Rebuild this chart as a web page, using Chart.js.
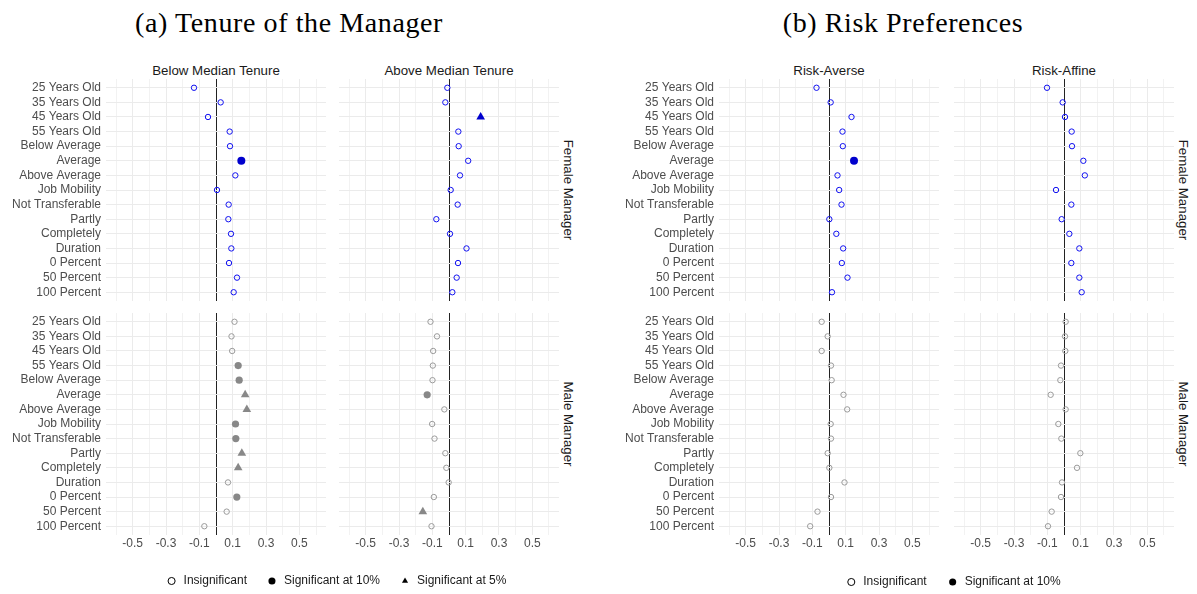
<!DOCTYPE html>
<html><head><meta charset="utf-8">
<script src="https://cdn.jsdelivr.net/npm/chart.js@4.4.1/dist/chart.umd.min.js"></script>
<style>
html,body{margin:0;padding:0;background:#fff;}
body{width:1197px;height:594px;overflow:hidden;position:relative;font-family:"Liberation Sans",Arial,sans-serif;}
.box{position:absolute;}
.title{position:absolute;font-family:"Liberation Serif",serif;font-size:28px;line-height:28px;letter-spacing:0.6px;color:#000;white-space:nowrap;transform:translateX(-50%);}
.strip{position:absolute;font-size:13.3px;line-height:15px;color:#1a1a1a;white-space:nowrap;transform:translate(-50%,-50%);}
.rstrip{position:absolute;font-size:13.3px;line-height:15px;color:#1a1a1a;white-space:nowrap;transform:translate(-50%,-50%) rotate(90deg);}
</style></head><body>
<script>
// ---------------- DATA ----------------
const categories = ['25 Years Old','35 Years Old','45 Years Old','55 Years Old','Below Average','Average','Above Average','Job Mobility','Not Transferable','Partly','Completely','Duration','0 Percent','50 Percent','100 Percent'];
const xTicks = [-0.6,-0.5,-0.4,-0.3,-0.2,-0.1,0,0.1,0.2,0.3,0.4,0.5,0.6];
const xTickLabels = ['-0.5','-0.3','-0.1','0.1','0.3','0.5'];
const groupTitles = ['(a) Tenure of the Manager','(b) Risk Preferences'];
const columnTitles = ['Below Median Tenure','Above Median Tenure','Risk-Averse','Risk-Affine'];
const rowTitles = ['Female Manager','Male Manager'];
const legendA = ['Insignificant','Significant at 10%','Significant at 5%'];
const legendB = ['Insignificant','Significant at 10%'];
// significance: 0 = insignificant, 1 = significant at 10%, 2 = significant at 5%
const tenureBelowFemale = [-0.132,0.028,-0.048,0.082,0.084,0.152,0.116,0.006,0.076,0.074,0.090,0.092,0.078,0.126,0.106];
const tenureBelowFemaleSig = [0,0,0,0,0,1,0,0,0,0,0,0,0,0,0];
const tenureAboveFemale = [-0.010,-0.022,0.190,0.056,0.058,0.115,0.066,0.010,0.052,-0.076,0.006,0.105,0.054,0.046,0.020];
const tenureAboveFemaleSig = [0,0,2,0,0,0,0,0,0,0,0,0,0,0,0];
const tenureBelowMale = [0.111,0.093,0.097,0.133,0.139,0.175,0.185,0.117,0.119,0.155,0.133,0.072,0.125,0.064,-0.070];
const tenureBelowMaleSig = [0,0,0,1,1,2,2,1,1,2,2,0,1,0,0];
const tenureAboveMale = [-0.111,-0.072,-0.095,-0.097,-0.099,-0.131,-0.028,-0.101,-0.087,-0.022,-0.016,-0.002,-0.091,-0.157,-0.105];
const tenureAboveMaleSig = [0,0,0,0,0,1,0,0,0,0,0,0,0,2,0];
const riskAverseFemale = [-0.075,0.010,0.135,0.081,0.083,0.150,0.051,0.061,0.075,0.002,0.044,0.085,0.077,0.111,0.018];
const riskAverseFemaleSig = [0,0,0,0,0,1,0,0,0,0,0,0,0,0,0];
const riskAffineFemale = [-0.102,-0.008,0.006,0.046,0.048,0.116,0.125,-0.048,0.044,-0.014,0.032,0.092,0.044,0.092,0.106];
const riskAffineFemaleSig = [0,0,0,0,0,0,0,0,0,0,0,0,0,0,0];
const riskAverseMale = [-0.044,-0.008,-0.044,0.012,0.016,0.087,0.109,0.010,0.012,-0.008,0.002,0.093,0.012,-0.069,-0.113];
const riskAverseMaleSig = [0,0,0,0,0,0,0,0,0,0,0,0,0,0,0];
const riskAffineMale = [0.010,0.006,0.008,-0.018,-0.022,-0.080,0.010,-0.034,-0.016,0.098,0.078,-0.012,-0.018,-0.074,-0.096];
const riskAffineMaleSig = [0,0,0,0,0,0,0,0,0,0,0,0,0,0,0];

// ---------------- LAYOUT ----------------
Chart.defaults.font.family = '"Liberation Sans", Arial, sans-serif';
const PANEL_W = 220, PANEL_H = 222, Y_AXIS_W = 104, X_AXIS_H = 22;
const colLeft = [106, 339, 719, 954];
const rowTop = [79, 313];
const styles = {
  female: {open:'#1010f0', fill:'#0000cd'},
  male: {open:'#9a9a9a', fill:'#888888'}
};

function addDiv(cls, text, left, top) {
  const d = document.createElement('div');
  d.className = cls; d.textContent = text;
  d.style.left = left + 'px'; d.style.top = top + 'px';
  document.body.appendChild(d);
}

function zeroPad(sc) { sc.paddingTop = 0; sc.paddingBottom = 0; sc.paddingLeft = 0; sc.paddingRight = 0; }

function makePanel(col, row, vals, sig) {
  const hasY = (col === 0 || col === 2), hasX = (row === 1);
  const st = row === 0 ? styles.female : styles.male;
  const yW = hasY ? Y_AXIS_W : 0, xH = hasX ? X_AXIS_H : 0;
  const div = document.createElement('div');
  div.className = 'box';
  div.style.left = (colLeft[col] - yW) + 'px';
  div.style.top = rowTop[row] + 'px';
  const cv = document.createElement('canvas');
  cv.width = PANEL_W + yW; cv.height = PANEL_H + xH;
  cv.style.width = cv.width + 'px'; cv.style.height = cv.height + 'px';
  div.appendChild(cv); document.body.appendChild(div);
  const s = i => sig[i];
  new Chart(cv, {
    type: 'scatter',
    data: { datasets: [{
      data: vals.map((v, i) => ({x: v, y: i})),
      pointStyle: c => s(c.dataIndex) === 2 ? 'triangle' : 'circle',
      pointRadius: c => [2.7, row === 0 ? 4 : 3.6, 5][s(c.dataIndex)],
      pointBackgroundColor: c => s(c.dataIndex) === 0 ? 'rgba(0,0,0,0)' : st.fill,
      pointBorderColor: c => s(c.dataIndex) === 0 ? st.open : st.fill,
      pointBorderWidth: c => s(c.dataIndex) === 0 ? 1 : 0
    }]},
    options: {
      responsive: false, animation: false, events: [],
      layout: {padding: 0, autoPadding: false},
      plugins: {legend: {display: false}, tooltip: {enabled: false}},
      scales: {
        x: {
          type: 'linear', min: -0.66, max: 0.66,
          afterBuildTicks: sc => { sc.ticks = xTicks.map(v => ({value: v})); },
          afterFit: sc => { sc.height = xH; zeroPad(sc); },
          border: {display: false},
          grid: {
            drawTicks: false,
            color: c => Math.abs(c.tick.value) < 1e-9 ? '#222' : (Math.round(c.tick.value * 10) % 2 !== 0 ? '#ebebeb' : '#f2f2f2'),
            lineWidth: 1
          },
          ticks: {
            display: hasX, autoSkip: false, maxRotation: 0, padding: 1,
            color: '#4d4d4d', font: {size: 12},
            callback: v => { const k = Math.round(v * 10); return (k % 2 !== 0) ? xTickLabels[(k + 5) / 2] : ''; }
          }
        },
        y: {
          type: 'linear', reverse: true, min: -0.6, max: 14.6,
          afterBuildTicks: sc => { sc.ticks = categories.map((c, i) => ({value: i})); },
          afterFit: sc => { sc.width = yW; zeroPad(sc); },
          border: {display: false},
          grid: {drawTicks: false, color: '#ebebeb', lineWidth: 1},
          ticks: {
            display: hasY, autoSkip: false, padding: 5,
            color: '#4d4d4d', font: {size: 12},
            callback: v => categories[Math.round(v)]
          }
        }
      }
    }
  });
}

function makeLegend(labels, left, top, pad) {
  const div = document.createElement('div');
  div.className = 'box';
  div.style.left = left + 'px'; div.style.top = top + 'px';
  const cv = document.createElement('canvas');
  cv.width = 400; cv.height = 160;
  cv.style.width = '400px'; cv.style.height = '160px';
  div.appendChild(cv); document.body.appendChild(div);
  const shapes = [
    {pointStyle: 'circle', fillStyle: 'rgba(0,0,0,0)', strokeStyle: '#000', lineWidth: 1},
    {pointStyle: 'circle', fillStyle: '#000', strokeStyle: '#000', lineWidth: 0},
    {pointStyle: 'triangle', fillStyle: '#000', strokeStyle: '#000', lineWidth: 0}
  ];
  new Chart(cv, {
    type: 'scatter',
    data: {datasets: labels.map(l => ({label: l, data: []}))},
    options: {
      responsive: false, animation: false, events: [],
      layout: {padding: 0},
      scales: {x: {display: false}, y: {display: false}},
      plugins: {
        tooltip: {enabled: false},
        legend: {
          display: true, position: 'top', align: 'center',
          labels: {
            usePointStyle: true, boxHeight: 5, padding: pad,
            color: '#1a1a1a', font: {size: 12},
            generateLabels: () => labels.map((t, i) => Object.assign({text: t, hidden: false, datasetIndex: i, fontColor: '#1a1a1a'}, shapes[i]))
          }
        }
      }
    }
  });
}

// titles
addDiv('title', groupTitles[0], 289, 9);
addDiv('title', groupTitles[1], 903, 9);
// column strips
columnTitles.forEach((t, i) => addDiv('strip', t, colLeft[i] + PANEL_W / 2, 70));
// row strips
[568, 1183].forEach(x => {
  addDiv('rstrip', rowTitles[0], x, rowTop[0] + PANEL_H / 2);
  addDiv('rstrip', rowTitles[1], x, rowTop[1] + PANEL_H / 2);
});

makePanel(0, 0, tenureBelowFemale, tenureBelowFemaleSig);
makePanel(1, 0, tenureAboveFemale, tenureAboveFemaleSig);
makePanel(0, 1, tenureBelowMale, tenureBelowMaleSig);
makePanel(1, 1, tenureAboveMale, tenureAboveMaleSig);
makePanel(2, 0, riskAverseFemale, riskAverseFemaleSig);
makePanel(3, 0, riskAffineFemale, riskAffineFemaleSig);
makePanel(2, 1, riskAverseMale, riskAverseMaleSig);
makePanel(3, 1, riskAffineMale, riskAffineMaleSig);

makeLegend(legendA, 136, 556, 19);
makeLegend(legendB, 753, 556, 20);
</script>
</body></html>
